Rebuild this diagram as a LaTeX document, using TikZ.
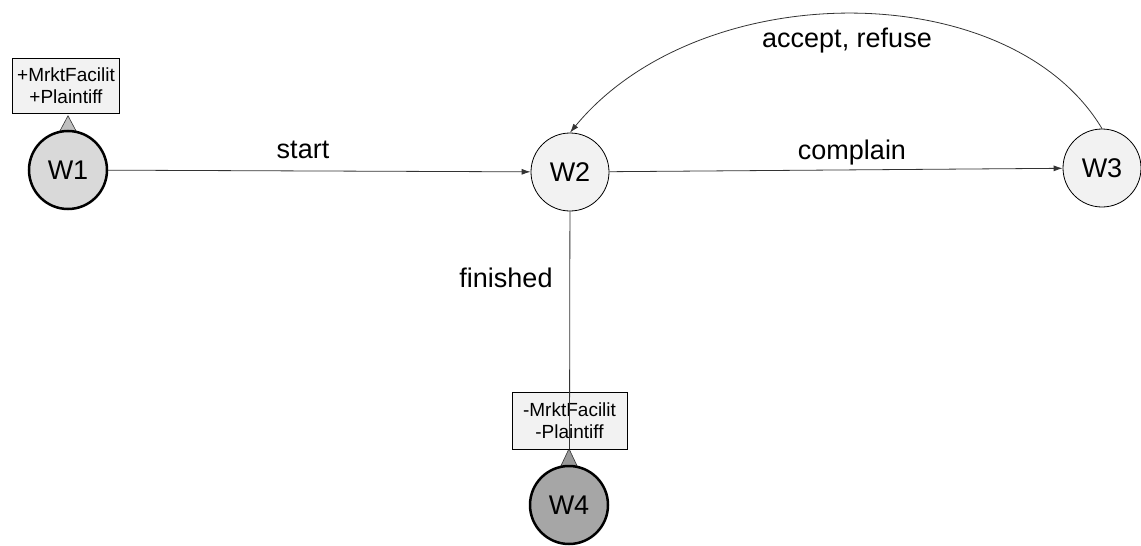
\documentclass[tikz,border=0pt]{standalone}
\usepackage{fontspec}
\setmainfont{Liberation Sans}
\usetikzlibrary{arrows.meta,backgrounds}
\definecolor{palefill}{HTML}{F2F2F2}
\definecolor{startfill}{HTML}{D9D9D9}
\definecolor{endfill}{HTML}{A6A6A6}
\definecolor{wire}{HTML}{333333}
\begin{document}
\begin{tikzpicture}[x=1pt,y=-1pt,
  state/.style={circle, draw=black, fill=palefill, minimum size=78pt, inner sep=0pt,
    line width=0.8pt, font=\fontsize{27}{32}\selectfont},
  initstate/.style={state, fill=startfill, line width=2.5pt},
  finalstate/.style={state, fill=endfill, line width=2.5pt},
  tagbox/.style={rectangle, draw=black, fill=palefill, line width=0.8pt, inner sep=0pt,
    align=center, font=\fontsize{19}{21.5}\selectfont},
  pointer/.style={draw=black!80, line width=0.6pt},
  trans/.style={draw=wire, line width=0.8pt, -{Latex[length=9pt,width=6pt]}},
  lbl/.style={anchor=base, inner sep=0pt, font=\fontsize{27}{32}\selectfont}
]
\useasboundingbox (0,0) rectangle (1141,546);

% states
\node[initstate]  (W1) at (68,170)   {W1};
\node[state]      (W2) at (570,172)  {W2};
\node[state]      (W3) at (1102,168) {W3};
\node[finalstate] (W4) at (569,505)  {W4};

% annotation boxes
\node[tagbox, minimum width=107pt, minimum height=55pt] (b1) at (66,85.5)
  {+MrktFacilit\\+Plaintiff};
\node[tagbox, minimum width=115pt, minimum height=57pt] (b4) at (569.5,420.5)
  {-MrktFacilit\\-Plaintiff};

% pointers from boxes to their states
\begin{scope}[on background layer]
  \filldraw[pointer, fill=black!25] ([xshift=-8.5pt,yshift=-2pt]W1.north) --
    ([yshift=14pt]W1.north) -- ([xshift=8.5pt,yshift=-2pt]W1.north) -- cycle;
  \filldraw[pointer, fill=black!40] ([xshift=-8.5pt,yshift=-2pt]W4.north) --
    ([yshift=16pt]W4.north) -- ([xshift=8.5pt,yshift=-2pt]W4.north) -- cycle;
\end{scope}

% transitions
\draw[trans] (W1) -- (W2);
\draw[trans] (W2) -- (W3);
\draw[trans] (W3.north) .. controls (1010,-25) and (700,-25) .. (W2.north);
\draw[draw=wire, line width=0.8pt] (W2) -- (b4.south);

% transition labels
\node[lbl] (tstart)    at (303,158) {start};
\node[lbl] (tcomplain) at (852,159) {complain};
\node[lbl] (taccept)   at (847,47)  {accept, refuse};
\node[lbl] (tfinished) at (506,287) {finished};
\end{tikzpicture}
\end{document}
